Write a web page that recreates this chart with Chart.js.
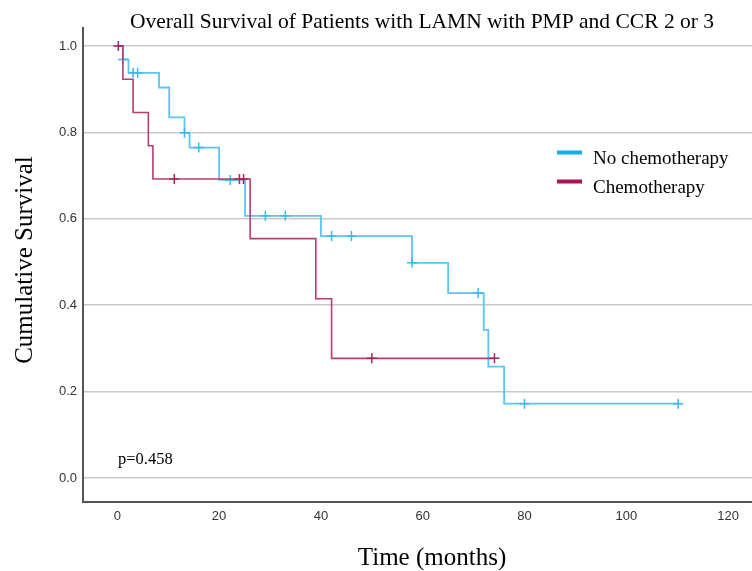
<!DOCTYPE html>
<html>
<head>
<meta charset="utf-8">
<title>Overall Survival</title>
<script src="https://cdn.jsdelivr.net/npm/chart.js@4.4.1/dist/chart.umd.min.js"></script>
<style>
  html, body { margin: 0; padding: 0; background: #fff; overflow: hidden; }
  #wrap { width: 752px; height: 571px; }
  canvas { display: block; }
</style>
</head>
<body>
<div id="wrap"><canvas id="kmChart" width="752" height="571"></canvas></div>
<script>
/* ===========================
   KAPLAN-MEIER DATA
   =========================== */

const seriesNames = ['No chemotherapy', 'Chemotherapy'];

// No chemotherapy: step times (months) and survival after each step
const noChemoTimes = [0, 1.1, 2.2, 8.2, 10.2, 13.2, 14.2, 20.0, 25.1, 40.0, 57.9, 65.0, 72.0, 72.9, 76.0, 110.4];
const noChemoSurv  = [1.0, 0.969, 0.938, 0.904, 0.835, 0.799, 0.765, 0.690, 0.607, 0.560, 0.498, 0.428, 0.343, 0.258, 0.172, 0.172];
const noChemoCensored = [1.1, 3.1, 4.0, 13.2, 16.0, 22.2, 29.1, 33.0, 42.1, 46.0, 57.9, 70.9, 80.0, 110.2];

// Chemotherapy
const chemoTimes = [0, 1.1, 3.1, 6.1, 7.0, 26.1, 39.0, 42.1, 74.1];
const chemoSurv  = [1.0, 0.923, 0.846, 0.769, 0.692, 0.554, 0.415, 0.277, 0.277];
const chemoCensored = [0.2, 11.2, 24.0, 24.8, 50.0, 74.1];

const xTicks = [0, 20, 40, 60, 80, 100, 120];
const yTicks = [0.0, 0.2, 0.4, 0.6, 0.8, 1.0];

const chartTitle = 'Overall Survival of Patients with LAMN with PMP and CCR 2 or 3';
const xTitle = 'Time (months)';
const yTitle = 'Cumulative Survival';
const pValueText = 'p=0.458';

const blueLine = '#5ec4f3';
const redLine = '#b53f70';
const blueKey = '#16aeea';
const redKey = '#ad1157';

// survival level at time t (last step at or before t)
function survivalAt(times, surv, t) {
    let s = surv[0];
    for (let i = 0; i < times.length; i++) {
        if (times[i] <= t + 1e-9) s = surv[i];
    }
    return s;
}

function toPoints(xs, ys) {
    return xs.map((x, i) => ({ x: x, y: ys[i] }));
}

const serif = "'Liberation Serif', 'Times New Roman', serif";
const sans = "'Liberation Sans', Arial, sans-serif";

// Titles, p-value and legend drawn on top of the chart
const annotations = {
    id: 'annotations',
    afterDraw(chart) {
        const ctx = chart.ctx;
        ctx.save();
        ctx.fillStyle = '#000';
        ctx.textBaseline = 'alphabetic';

        ctx.font = '21.5px ' + serif;
        ctx.textAlign = 'center';
        ctx.fillText(chartTitle, 422, 28);

        ctx.font = '25px ' + serif;
        ctx.fillText(xTitle, 432, 565);

        ctx.save();
        ctx.translate(32, 260);
        ctx.rotate(-Math.PI / 2);
        ctx.fillText(yTitle, 0, 0);
        ctx.restore();

        ctx.textAlign = 'left';
        ctx.font = '16.5px ' + serif;
        ctx.fillText(pValueText, 118, 464);

        // legend
        const keys = [blueKey, redKey];
        ctx.font = '19px ' + serif;
        keys.forEach((c, i) => {
            const y = 152.5 + i * 29;
            ctx.fillStyle = c;
            ctx.fillRect(557, y - 2, 25, 4);
            ctx.fillStyle = '#000';
            ctx.fillText(seriesNames[i], 593, y + 11);
        });
        ctx.restore();
    }
};

const ctx = document.getElementById('kmChart');
new Chart(ctx, {
    type: 'scatter',
    data: {
        datasets: [
            {
                label: seriesNames[0],
                data: toPoints(noChemoTimes, noChemoSurv),
                showLine: true,
                stepped: true,
                borderColor: blueLine,
                borderWidth: 1.8,
                pointRadius: 0,
                order: 3
            },
            {
                label: seriesNames[0] + ' censored',
                data: noChemoCensored.map(t => ({ x: t, y: survivalAt(noChemoTimes, noChemoSurv, t) })),
                showLine: false,
                pointStyle: 'cross',
                pointRadius: 5,
                borderColor: '#3fb7ee',
                borderWidth: 1.5,
                order: 2
            },
            {
                label: seriesNames[1],
                data: toPoints(chemoTimes, chemoSurv),
                showLine: true,
                stepped: true,
                borderColor: redLine,
                borderWidth: 1.6,
                pointRadius: 0,
                order: 1
            },
            {
                label: seriesNames[1] + ' censored',
                data: chemoCensored.map(t => ({ x: t, y: survivalAt(chemoTimes, chemoSurv, t) })),
                showLine: false,
                pointStyle: 'cross',
                pointRadius: 5,
                borderColor: '#a3275e',
                borderWidth: 1.5,
                order: 0
            }
        ]
    },
    options: {
        responsive: false,
        animation: false,
        devicePixelRatio: 1,
        layout: {
            autoPadding: false,
            padding: { top: 28, right: 0, left: 0, bottom: 0 }
        },
        plugins: {
            legend: { display: false },
            tooltip: { enabled: false },
            title: { display: false }
        },
        scales: {
            x: {
                type: 'linear',
                min: -6.74,
                max: 124.7,
                afterBuildTicks: (scale) => { scale.ticks = xTicks.map(v => ({ value: v })); },
                afterFit: (scale) => {
                    scale.height = 69;
                    scale.paddingLeft = 0;
                    scale.paddingRight = 0;
                },
                ticks: {
                    color: '#333',
                    font: { family: sans, size: 13 },
                    padding: 7,
                    maxRotation: 0,
                    callback: (v) => String(v)
                },
                grid: { display: false, drawTicks: false },
                border: { display: true, color: '#555', width: 2 }
            },
            y: {
                type: 'linear',
                min: -0.0556,
                max: 1.0417,
                afterBuildTicks: (scale) => { scale.ticks = yTicks.map(v => ({ value: v })); },
                afterFit: (scale) => {
                    scale.width = 83;
                    scale.paddingTop = 0;
                    scale.paddingBottom = 0;
                },
                ticks: {
                    color: '#333',
                    font: { family: sans, size: 13 },
                    padding: 6,
                    callback: (v) => Number(v).toFixed(1)
                },
                grid: { color: '#c9c9c9', lineWidth: 1.5, drawTicks: false },
                border: { display: true, color: '#555', width: 2 }
            }
        }
    },
    plugins: [annotations]
});
</script>
</body>
</html>
